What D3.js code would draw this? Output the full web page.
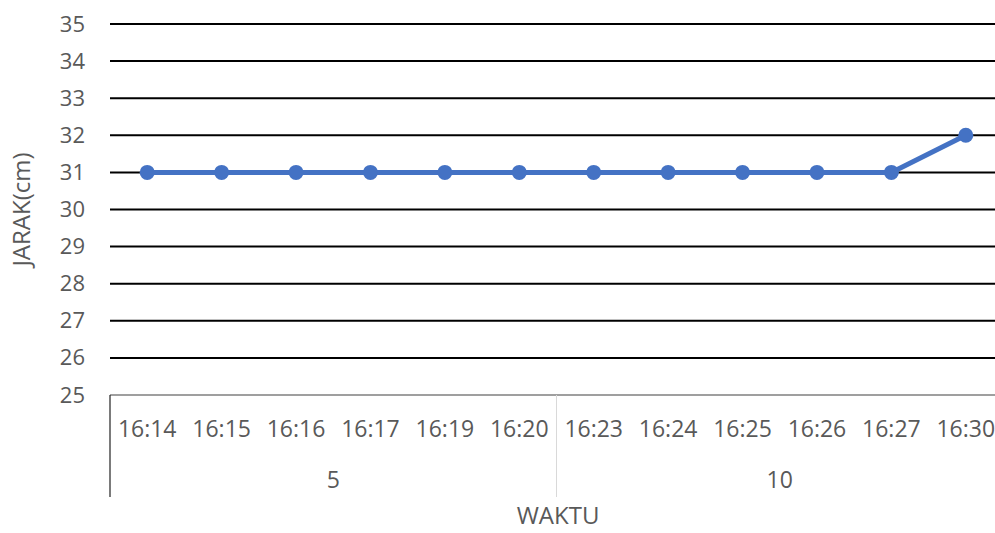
<!DOCTYPE html>
<html>
<head>
<meta charset="utf-8">
<script src="https://cdn.jsdelivr.net/npm/d3@7"></script>
<style>
  html, body { margin: 0; padding: 0; background: #fff; }
  svg { display: block; }
  text { font-family: "Open Sans", "Liberation Sans", sans-serif; fill: #595959; }
</style>
</head>
<body>
<svg id="chart" width="995" height="533"></svg>
<script>
// Time labels, their group (interval) and measured distance in cm
const times = ["16:14","16:15","16:16","16:17","16:19","16:20","16:23","16:24","16:25","16:26","16:27","16:30"];
const groups = ["5","5","5","5","5","5","10","10","10","10","10","10"];
const jarak = [31,31,31,31,31,31,31,31,31,31,31,32];
const yTicks = [25,26,27,28,29,30,31,32,33,34,35];

const svg = d3.select("#chart");
const margin = { left: 110, right: -8, top: 24, bottom: 138 };
const W = 995, H = 533;

const x = d3.scaleBand().domain(times).range([margin.left, W - margin.right]).padding(0);
const y = d3.scaleLinear().domain([25, 35]).range([H - margin.bottom, margin.top]);

// horizontal gridlines
svg.append("g").selectAll("line").data(yTicks.filter(d => d > 25)).join("line")
  .attr("x1", margin.left).attr("x2", W)
  .attr("y1", d => y(d)).attr("y2", d => y(d))
  .attr("stroke", "#000").attr("stroke-width", 2);

// y axis labels
const yAxis = d3.axisLeft(y).tickValues(yTicks).tickSize(0).tickPadding(0).tickFormat(d3.format("d"));
const gy = svg.append("g").attr("transform", `translate(${margin.left - 25},0)`).call(yAxis);
gy.select(".domain").remove();
gy.selectAll("text").style("font-size", "22px").attr("fill", "#595959");

// category axis baseline and group frame
const base = y(25);
const frameBottom = base + 102;
svg.append("line").attr("x1", margin.left).attr("x2", W).attr("y1", base).attr("y2", base)
  .attr("stroke", "#404040").attr("stroke-width", 1.2);
svg.append("line").attr("x1", margin.left).attr("x2", margin.left).attr("y1", base).attr("y2", frameBottom)
  .attr("stroke", "#222").attr("stroke-width", 1.2);

// time labels
const gx = svg.append("g").attr("transform", `translate(0,${base})`)
  .call(d3.axisBottom(x).tickSize(0).tickPadding(0));
gx.select(".domain").remove();
gx.selectAll("text").attr("dy", null).attr("y", 42).style("font-size", "23px").attr("fill", "#595959");

// group labels and separators
const groupNames = Array.from(new Set(groups));
groupNames.forEach((g, i) => {
  const members = times.filter((t, k) => groups[k] === g);
  const x0 = x(members[0]);
  const x1 = x(members[members.length - 1]) + x.bandwidth();
  svg.append("text").attr("x", (x0 + x1) / 2).attr("y", base + 93)
    .attr("text-anchor", "middle").style("font-size", "23px").text(g);
  if (i > 0) {
    svg.append("line").attr("x1", x0).attr("x2", x0).attr("y1", base).attr("y2", frameBottom)
      .attr("stroke", "#d9d9d9").attr("stroke-width", 1);
  }
});

// data line and markers
const cx = t => x(t) + x.bandwidth() / 2;
const line = d3.line().x((d, i) => cx(times[i])).y(d => y(d));
svg.append("path").datum(jarak).attr("d", line)
  .attr("fill", "none").attr("stroke", "#4472C4").attr("stroke-width", 5).attr("stroke-linejoin", "round");
svg.append("g").selectAll("circle").data(jarak).join("circle")
  .attr("cx", (d, i) => cx(times[i])).attr("cy", d => y(d)).attr("r", 7.5)
  .attr("fill", "#4472C4");

// axis titles
svg.append("text").attr("x", 558).attr("y", 524).attr("text-anchor", "middle")
  .style("font-size", "24px").text("WAKTU");
svg.append("text").attr("transform", `translate(30,${(y(25) + y(35)) / 2}) rotate(-90)`)
  .attr("text-anchor", "middle").style("font-size", "24px").text("JARAK(cm)");
</script>
</body>
</html>
